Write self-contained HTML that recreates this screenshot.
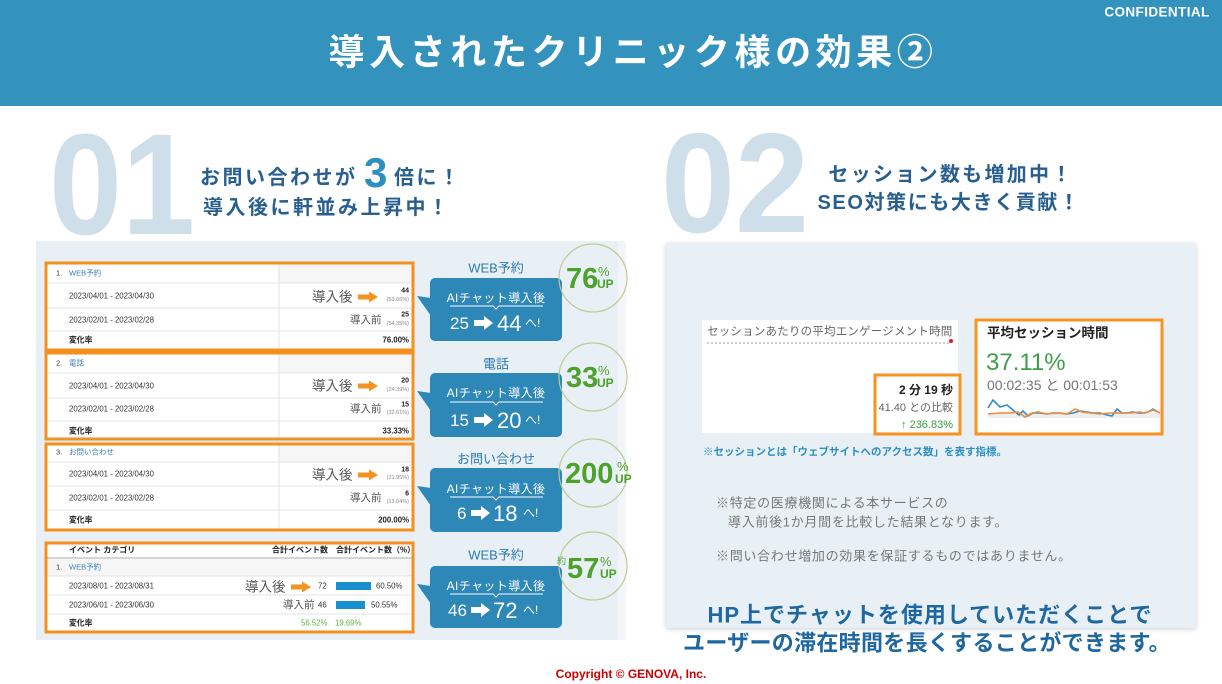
<!DOCTYPE html>
<html lang="ja">
<head>
<meta charset="utf-8">
<style>
html,body{margin:0;padding:0;background:#fff;}
body{width:1222px;height:684px;overflow:hidden;}
svg{display:block;}
text{font-family:"Liberation Sans","Noto Sans CJK JP",sans-serif;}
</style>
</head>
<body>
<svg width="1222" height="684" viewBox="0 0 1222 684" xmlns="http://www.w3.org/2000/svg">
<defs>
  <filter id="sh" x="-5%" y="-5%" width="110%" height="110%">
    <feDropShadow dx="0" dy="1" stdDeviation="2.5" flood-color="#9aa8b2" flood-opacity="0.55"/>
  </filter>
  <g id="oarrowBig">
    <rect x="0" y="-2.5" width="12" height="5" fill="#F39320"/>
    <polygon points="11,-5.5 20,0 11,5.5" fill="#F39320"/>
  </g>
  <g id="warrow">
    <rect x="0" y="-3" width="11" height="6" fill="#fff"/>
    <polygon points="10,-7 19,0 10,7" fill="#fff"/>
  </g>
</defs>

<!-- Header -->
<rect x="0" y="0" width="1222" height="106" fill="#3393BD"/>
<text x="633" y="52" text-anchor="middle" dominant-baseline="central" font-size="36" font-weight="bold" fill="#fff" letter-spacing="4.6">導入されたクリニック様の効果②</text>
<text x="1157" y="12" text-anchor="middle" dominant-baseline="central" font-size="13.5" font-weight="bold" fill="#fff" letter-spacing="0.4">CONFIDENTIAL</text>

<!-- Big numbers -->
<text x="49" y="234" font-size="144" font-weight="bold" fill="#CFDFEA" textLength="146" lengthAdjust="spacingAndGlyphs">01</text>
<text x="661" y="232" font-size="142" font-weight="bold" fill="#CFDFEA" textLength="148" lengthAdjust="spacingAndGlyphs">02</text>

<!-- Left headline -->
<text y="178" dominant-baseline="central" font-weight="bold" fill="#285F8F" font-size="20" letter-spacing="2.5"><tspan x="200">お問い合わせが</tspan></text>
<text x="364" y="187" font-size="42" font-weight="bold" fill="#2B8FBF">3</text>
<text x="394" y="178" dominant-baseline="central" font-weight="bold" fill="#285F8F" font-size="20" letter-spacing="2.5">倍に！</text>
<text x="203" y="208" dominant-baseline="central" font-weight="bold" fill="#285F8F" font-size="20" letter-spacing="2.5">導入後に軒並み上昇中！</text>

<!-- Right headline -->
<text x="951" y="175" text-anchor="middle" dominant-baseline="central" font-weight="bold" fill="#285F8F" font-size="20" letter-spacing="2.3">セッション数も増加中！</text>
<text x="949" y="203" text-anchor="middle" dominant-baseline="central" font-weight="bold" fill="#285F8F" font-size="20" letter-spacing="1.6">SEO対策にも大きく貢献！</text>

<!-- Left panel -->
<rect x="36" y="241" width="582" height="399" fill="#E8F0F5"/>
<rect x="618" y="241" width="8" height="399" fill="#F2F6F8"/>

<!-- Table 1 -->
<g>
  <rect x="46" y="263" width="367" height="87" fill="#fff"/>
  <rect x="279" y="264" width="133" height="19" fill="#F6F6F6"/>
  <line x1="47" y1="283" x2="412" y2="283" stroke="#E3E3E3"/>
  <line x1="47" y1="308" x2="412" y2="308" stroke="#E3E3E3"/>
  <line x1="47" y1="331" x2="412" y2="331" stroke="#E3E3E3"/>
  <line x1="279" y1="264" x2="279" y2="349" stroke="#E3E3E3"/>
  <text x="56" y="273" dominant-baseline="central" font-size="7.5" fill="#333">1.</text>
  <text x="69" y="273" dominant-baseline="central" font-size="7.5" fill="#3A7DB8">WEB予約</text>
  <text x="69" y="296" dominant-baseline="central" font-size="7.8" fill="#333">2023/04/01 - 2023/04/30</text>
  <text x="69" y="320" dominant-baseline="central" font-size="7.8" fill="#333">2023/02/01 - 2023/02/28</text>
  <text x="69" y="340" dominant-baseline="central" font-size="7.8" font-weight="bold" fill="#222">変化率</text>
  <text x="312" y="297" dominant-baseline="central" font-size="13.5" fill="#555">導入後</text>
  <use href="#oarrowBig" x="358" y="297"/>
  <text x="409" y="291" text-anchor="end" dominant-baseline="central" font-size="7" font-weight="bold" fill="#222">44</text>
  <text x="409" y="300" text-anchor="end" dominant-baseline="central" font-size="5.5" fill="#888">(53.66%)</text>
  <text x="350" y="320" dominant-baseline="central" font-size="10.5" fill="#555">導入前</text>
  <text x="409" y="315" text-anchor="end" dominant-baseline="central" font-size="7" font-weight="bold" fill="#222">25</text>
  <text x="409" y="324" text-anchor="end" dominant-baseline="central" font-size="5.5" fill="#888">(54.35%)</text>
  <text x="409" y="340" text-anchor="end" dominant-baseline="central" font-size="7.8" font-weight="bold" fill="#222">76.00%</text>
  <rect x="46" y="263" width="367" height="87" fill="none" stroke="#F5901F" stroke-width="3"/>
</g>

<!-- Table 2 -->
<g>
  <rect x="46" y="353" width="367" height="86" fill="#fff"/>
  <rect x="279" y="354" width="133" height="19" fill="#F6F6F6"/>
  <line x1="47" y1="373" x2="412" y2="373" stroke="#E3E3E3"/>
  <line x1="47" y1="398" x2="412" y2="398" stroke="#E3E3E3"/>
  <line x1="47" y1="421" x2="412" y2="421" stroke="#E3E3E3"/>
  <line x1="279" y1="354" x2="279" y2="438" stroke="#E3E3E3"/>
  <text x="56" y="363" dominant-baseline="central" font-size="7.5" fill="#333">2.</text>
  <text x="69" y="363" dominant-baseline="central" font-size="7.5" fill="#3A7DB8">電話</text>
  <text x="69" y="386" dominant-baseline="central" font-size="7.8" fill="#333">2023/04/01 - 2023/04/30</text>
  <text x="69" y="409" dominant-baseline="central" font-size="7.8" fill="#333">2023/02/01 - 2023/02/28</text>
  <text x="69" y="431" dominant-baseline="central" font-size="7.8" font-weight="bold" fill="#222">変化率</text>
  <text x="312" y="386" dominant-baseline="central" font-size="13.5" fill="#555">導入後</text>
  <use href="#oarrowBig" x="358" y="386"/>
  <text x="409" y="381" text-anchor="end" dominant-baseline="central" font-size="7" font-weight="bold" fill="#222">20</text>
  <text x="409" y="390" text-anchor="end" dominant-baseline="central" font-size="5.5" fill="#888">(24.39%)</text>
  <text x="350" y="409" dominant-baseline="central" font-size="10.5" fill="#555">導入前</text>
  <text x="409" y="405" text-anchor="end" dominant-baseline="central" font-size="7" font-weight="bold" fill="#222">15</text>
  <text x="409" y="413" text-anchor="end" dominant-baseline="central" font-size="5.5" fill="#888">(32.61%)</text>
  <text x="409" y="431" text-anchor="end" dominant-baseline="central" font-size="7.8" font-weight="bold" fill="#222">33.33%</text>
  <rect x="46" y="353" width="367" height="86" fill="none" stroke="#F5901F" stroke-width="3"/>
</g>

<!-- Table 3 -->
<g>
  <rect x="46" y="444" width="367" height="86" fill="#fff"/>
  <rect x="279" y="445" width="133" height="17" fill="#F6F6F6"/>
  <line x1="47" y1="462" x2="412" y2="462" stroke="#E3E3E3"/>
  <line x1="47" y1="486" x2="412" y2="486" stroke="#E3E3E3"/>
  <line x1="47" y1="510" x2="412" y2="510" stroke="#E3E3E3"/>
  <line x1="279" y1="445" x2="279" y2="529" stroke="#E3E3E3"/>
  <text x="56" y="452" dominant-baseline="central" font-size="7.5" fill="#333">3.</text>
  <text x="69" y="452" dominant-baseline="central" font-size="7.5" fill="#3A7DB8">お問い合わせ</text>
  <text x="69" y="474" dominant-baseline="central" font-size="7.8" fill="#333">2023/04/01 - 2023/04/30</text>
  <text x="69" y="498" dominant-baseline="central" font-size="7.8" fill="#333">2023/02/01 - 2023/02/28</text>
  <text x="69" y="520" dominant-baseline="central" font-size="7.8" font-weight="bold" fill="#222">変化率</text>
  <text x="312" y="475" dominant-baseline="central" font-size="13.5" fill="#555">導入後</text>
  <use href="#oarrowBig" x="358" y="475"/>
  <text x="409" y="470" text-anchor="end" dominant-baseline="central" font-size="7" font-weight="bold" fill="#222">18</text>
  <text x="409" y="478" text-anchor="end" dominant-baseline="central" font-size="5.5" fill="#888">(21.95%)</text>
  <text x="350" y="498" dominant-baseline="central" font-size="10.5" fill="#555">導入前</text>
  <text x="409" y="494" text-anchor="end" dominant-baseline="central" font-size="7" font-weight="bold" fill="#222">6</text>
  <text x="409" y="502" text-anchor="end" dominant-baseline="central" font-size="5.5" fill="#888">(13.04%)</text>
  <text x="409" y="520" text-anchor="end" dominant-baseline="central" font-size="7.8" font-weight="bold" fill="#222">200.00%</text>
  <rect x="46" y="444" width="367" height="86" fill="none" stroke="#F5901F" stroke-width="3"/>
</g>

<!-- Table 4 -->
<g>
  <rect x="46" y="543" width="367" height="89" fill="#fff"/>
  <rect x="47" y="559" width="365" height="17" fill="#F6F6F6"/>
  <line x1="47" y1="558" x2="412" y2="558" stroke="#A8A8A8"/>
  <line x1="47" y1="576" x2="412" y2="576" stroke="#E3E3E3"/>
  <line x1="47" y1="595" x2="412" y2="595" stroke="#E3E3E3"/>
  <line x1="47" y1="614" x2="412" y2="614" stroke="#E3E3E3"/>
  <text x="69" y="550" dominant-baseline="central" font-size="8" font-weight="bold" fill="#222">イベント カテゴリ</text>
  <text x="272" y="550" dominant-baseline="central" font-size="8" font-weight="bold" fill="#222">合計イベント数</text>
  <text x="336" y="550" dominant-baseline="central" font-size="8" font-weight="bold" fill="#222">合計イベント数（%）</text>
  <text x="56" y="567" dominant-baseline="central" font-size="7.5" fill="#333">1.</text>
  <text x="69" y="567" dominant-baseline="central" font-size="7.5" fill="#3A7DB8">WEB予約</text>
  <text x="69" y="586" dominant-baseline="central" font-size="7.8" fill="#333">2023/08/01 - 2023/08/31</text>
  <text x="69" y="605" dominant-baseline="central" font-size="7.8" fill="#333">2023/06/01 - 2023/06/30</text>
  <text x="69" y="623" dominant-baseline="central" font-size="7.8" font-weight="bold" fill="#222">変化率</text>
  <text x="245" y="587" dominant-baseline="central" font-size="13.5" fill="#555">導入後</text>
  <use href="#oarrowBig" x="291" y="587"/>
  <text x="318" y="586" dominant-baseline="central" font-size="7.8" fill="#333">72</text>
  <rect x="336" y="582" width="35" height="8" fill="#1A8FD0"/>
  <text x="376" y="586" dominant-baseline="central" font-size="7.8" fill="#333">60.50%</text>
  <text x="283" y="605" dominant-baseline="central" font-size="10.5" fill="#555">導入前</text>
  <text x="318" y="605" dominant-baseline="central" font-size="7.8" fill="#333">46</text>
  <rect x="336" y="601" width="29" height="8" fill="#1A8FD0"/>
  <text x="371" y="605" dominant-baseline="central" font-size="7.8" fill="#333">50.55%</text>
  <text x="301" y="623" dominant-baseline="central" font-size="7.8" fill="#5DB346">56.52%</text>
  <text x="335" y="623" dominant-baseline="central" font-size="7.8" fill="#5DB346">19.69%</text>
  <rect x="46" y="543" width="367" height="89" fill="none" stroke="#F5901F" stroke-width="3"/>
</g>

<!-- Callouts -->
<g>
  <text x="496" y="268" text-anchor="middle" dominant-baseline="central" font-size="13" fill="#2E7BAE">WEB予約</text>
  <rect x="430" y="278" width="132" height="63" rx="5" fill="#2D87B7"/>
  <polygon points="431,298 431,316 417,296" fill="#2D87B7"/>
  <text x="496" y="298" text-anchor="middle" dominant-baseline="central" font-size="12" fill="#fff" letter-spacing="0.4">AIチャット導入後</text>
  <polyline points="450,306 493,306 496,309 499,306 543,306" fill="none" stroke="#fff" stroke-width="1"/>
  <text y="323" dominant-baseline="central" fill="#fff"><tspan x="450" font-size="17">25</tspan><tspan x="497" font-size="22">44</tspan><tspan x="525" font-size="12">へ!</tspan></text>
  <use href="#warrow" x="474" y="323"/>
</g>
<g>
  <text x="496" y="364" text-anchor="middle" dominant-baseline="central" font-size="13" fill="#2E7BAE">電話</text>
  <rect x="430" y="373" width="132" height="64" rx="5" fill="#2D87B7"/>
  <polygon points="431,393 431,411 417,391" fill="#2D87B7"/>
  <text x="496" y="393" text-anchor="middle" dominant-baseline="central" font-size="12" fill="#fff" letter-spacing="0.4">AIチャット導入後</text>
  <polyline points="450,402 493,402 496,405 499,402 543,402" fill="none" stroke="#fff" stroke-width="1"/>
  <text y="420" dominant-baseline="central" fill="#fff"><tspan x="450" font-size="17">15</tspan><tspan x="497" font-size="22">20</tspan><tspan x="525" font-size="12">へ!</tspan></text>
  <use href="#warrow" x="474" y="420"/>
</g>
<g>
  <text x="496" y="459" text-anchor="middle" dominant-baseline="central" font-size="13" fill="#2E7BAE">お問い合わせ</text>
  <rect x="430" y="468" width="132" height="64" rx="5" fill="#2D87B7"/>
  <polygon points="431,488 431,506 417,486" fill="#2D87B7"/>
  <text x="496" y="489" text-anchor="middle" dominant-baseline="central" font-size="12" fill="#fff" letter-spacing="0.4">AIチャット導入後</text>
  <polyline points="450,497 493,497 496,500 499,497 543,497" fill="none" stroke="#fff" stroke-width="1"/>
  <text y="513" dominant-baseline="central" fill="#fff"><tspan x="457" font-size="17">6</tspan><tspan x="493" font-size="22">18</tspan><tspan x="523" font-size="12">へ!</tspan></text>
  <use href="#warrow" x="471" y="513"/>
</g>
<g>
  <text x="496" y="555" text-anchor="middle" dominant-baseline="central" font-size="13" fill="#2E7BAE">WEB予約</text>
  <rect x="430" y="566" width="132" height="62" rx="5" fill="#2D87B7"/>
  <polygon points="431,586 431,604 417,584" fill="#2D87B7"/>
  <text x="496" y="586" text-anchor="middle" dominant-baseline="central" font-size="12" fill="#fff" letter-spacing="0.4">AIチャット導入後</text>
  <polyline points="450,594 493,594 496,597 499,594 543,594" fill="none" stroke="#fff" stroke-width="1"/>
  <text y="610" dominant-baseline="central" fill="#fff"><tspan x="448" font-size="17">46</tspan><tspan x="493" font-size="22">72</tspan><tspan x="523" font-size="12">へ!</tspan></text>
  <use href="#warrow" x="471" y="610"/>
</g>

<!-- Circles -->
<g fill="none" stroke="#BCCB94" stroke-width="1.2">
  <circle cx="593" cy="278" r="34"/>
  <circle cx="593" cy="377" r="34"/>
  <circle cx="593" cy="473" r="34"/>
  <circle cx="593" cy="566" r="34"/>
</g>
<g fill="#4CA22A" font-weight="bold">
  <text x="566" y="288" font-size="29">76</text>
  <text x="598" y="276" font-size="13" font-weight="normal">%</text>
  <text x="597" y="288" font-size="12">UP</text>

  <text x="566" y="387" font-size="29">33</text>
  <text x="598" y="375" font-size="13" font-weight="normal">%</text>
  <text x="597" y="387" font-size="12">UP</text>

  <text x="565" y="483" font-size="29">200</text>
  <text x="617" y="471" font-size="13" font-weight="normal">%</text>
  <text x="615" y="483" font-size="12">UP</text>

  <text x="557" y="564" font-size="9" font-weight="normal">約</text>
  <text x="567" y="578" font-size="29">57</text>
  <text x="600" y="566" font-size="13" font-weight="normal">%</text>
  <text x="600" y="578" font-size="12">UP</text>
</g>

<!-- Right panel -->
<rect x="666" y="243" width="530" height="385" fill="#E8F0F5" filter="url(#sh)"/>

<!-- engagement card -->
<rect x="702" y="320" width="256" height="113" fill="#fff"/>
<text x="707" y="332" dominant-baseline="central" font-size="11.5" fill="#666" letter-spacing="0.2">セッションあたりの平均エンゲージメント時間</text>
<line x1="707" y1="343" x2="950" y2="343" stroke="#999" stroke-width="1" stroke-dasharray="2,2"/>
<circle cx="951" cy="341" r="2" fill="#E02020"/>

<rect x="875" y="375" width="85" height="59" fill="#fff" stroke="#F7931E" stroke-width="3"/>
<text x="953" y="390" text-anchor="end" dominant-baseline="central" font-size="12" font-weight="bold" fill="#222">2 分 19 秒</text>
<text x="953" y="408" text-anchor="end" dominant-baseline="central" font-size="11" fill="#666">41.40 との比較</text>
<text x="953" y="425" text-anchor="end" dominant-baseline="central" font-size="11" fill="#3A9A3A">↑ 236.83%</text>

<rect x="976" y="320" width="186" height="114" fill="#fff" stroke="#F7931E" stroke-width="3"/>
<text x="987" y="333" dominant-baseline="central" font-size="13.5" font-weight="bold" fill="#222">平均セッション時間</text>
<text x="986" y="370" font-size="24" fill="#3E9E48">37.11%</text>
<text x="987" y="385" dominant-baseline="central" font-size="14" fill="#777">00:02:35 と 00:01:53</text>
<rect x="988" y="413" width="172" height="5" fill="#EEEEEE"/>
<polyline fill="none" stroke="#2A8FC9" stroke-width="1.6" points="988,408 993,400 1000,407 1007,405 1013,410 1019,415 1023,411 1028,416 1033,413 1040,413 1047,414 1053,413 1060,413 1067,414 1073,413 1080,411 1087,412 1093,413 1100,413 1107,415 1112,416 1117,409 1122,413 1127,413 1133,412 1138,413 1143,413 1148,412 1153,409 1158,412"/>
<polyline fill="none" stroke="#F08A3C" stroke-width="1.6" points="988,414 1000,413 1010,413 1018,412 1025,417 1032,413 1038,412 1047,414 1057,413 1067,414 1075,409 1082,412 1090,413 1100,414 1110,413 1120,413 1130,413 1140,412 1145,413 1153,410 1160,413"/>

<text x="703" y="452" dominant-baseline="central" font-size="10.5" font-weight="bold" fill="#2B8FBF">※セッションとは「ウェブサイトへのアクセス数」を表す指標。</text>

<text x="716" y="503" dominant-baseline="central" font-size="13" fill="#777" letter-spacing="0.7">※特定の医療機関による本サービスの</text>
<text x="728" y="522" dominant-baseline="central" font-size="13" fill="#777" letter-spacing="0.7">導入前後1か月間を比較した結果となります。</text>
<text x="716" y="556" dominant-baseline="central" font-size="13" fill="#777" letter-spacing="0.7">※問い合わせ増加の効果を保証するものではありません。</text>

<text x="930" y="615" text-anchor="middle" dominant-baseline="central" font-size="22" font-weight="bold" fill="#1E67A0" letter-spacing="1">HP上でチャットを使用していただくことで</text>
<text x="927" y="643" text-anchor="middle" dominant-baseline="central" font-size="22" font-weight="bold" fill="#1E67A0" letter-spacing="0.3">ユーザーの滞在時間を長くすることができます。</text>

<!-- Footer -->
<text x="631" y="674" text-anchor="middle" dominant-baseline="central" font-size="12" font-weight="bold" fill="#CC0000">Copyright © GENOVA, Inc.</text>
</svg>
</body>
</html>
